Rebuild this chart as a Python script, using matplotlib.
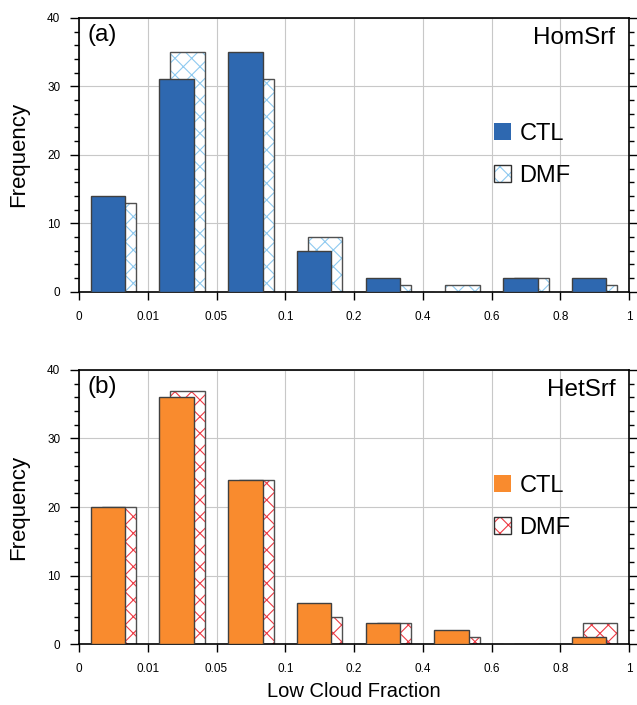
import numpy as np
import matplotlib
matplotlib.use('Agg')
import matplotlib.pyplot as plt
from matplotlib.patches import Patch

plt.rcParams['font.family'] = ['Liberation Sans', 'DejaVu Sans']
plt.rcParams['hatch.linewidth'] = 0.8

# bin edge labels and frequencies
edge_labels = ['0', '0.01', '0.05', '0.1', '0.2', '0.4', '0.6', '0.8', '1']
hom_ctl = [14, 31, 35, 6, 2, 0, 2, 2]
hom_dmf = [13, 35, 31, 8, 1, 1, 2, 1]
het_ctl = [20, 36, 24, 6, 3, 2, 0, 1]
het_dmf = [20, 37, 24, 4, 3, 1, 0, 3]

panels = [
    ('(a)', 'HomSrf', hom_ctl, hom_dmf, '#2e68b0', '#8fcaf0'),
    ('(b)', 'HetSrf', het_ctl, het_dmf, '#f98b2e', '#ee3a44'),
]

fig = plt.figure(figsize=(6.37, 7.05), dpi=100)
boxes = [[0.124, 0.586, 0.8635, 0.3887], [0.124, 0.0865, 0.8635, 0.3887]]

x = np.arange(len(hom_ctl))
width = 0.5
edge = '#505050'

for box, (tag, name, ctl, dmf, fill, hcol) in zip(boxes, panels):
    ax = fig.add_axes(box)
    ax.set_axisbelow(True)
    ax.grid(True, color='#c8c8c8', linewidth=0.8)

    # DMF: hatched, shifted right, drawn behind CTL
    ax.bar(x + 0.58, dmf, width, color='white', edgecolor=hcol,
           hatch='xx', linewidth=0, zorder=2)
    ax.bar(x + 0.58, dmf, width, fill=False, edgecolor=edge,
           linewidth=1.0, zorder=2.1)
    # CTL solid
    ax.bar(x + 0.42, ctl, width, color=fill, edgecolor='#404040',
           linewidth=1.0, zorder=3)

    ax.set_xlim(0, 8)
    ax.set_ylim(0, 40)
    ax.set_xticks(np.arange(9))
    ax.set_xticklabels(edge_labels)
    ax.set_yticks([0, 10, 20, 30, 40])
    ax.set_yticks(np.arange(0, 41, 2), minor=True)
    ax.tick_params(axis='y', which='both', direction='out', right=True,
                   labelsize=8.5, width=1.0, pad=7)
    ax.tick_params(axis='y', which='major', length=6.5)
    ax.tick_params(axis='y', which='minor', length=3.5)
    ax.tick_params(axis='x', direction='out', length=6, width=1.0,
                   labelsize=8.5, pad=8)
    for s in ax.spines.values():
        s.set_linewidth(1.2)

    ax.set_ylabel('Frequency', fontsize=16, labelpad=13)
    ax.text(0.016, 0.978, tag, transform=ax.transAxes, fontsize=17.5,
            ha='left', va='top')
    ax.text(0.975, 0.968, name, transform=ax.transAxes, fontsize=17.5,
            ha='right', va='top')

    h_ctl = Patch(facecolor=fill, edgecolor='none')
    h_dmf = (Patch(facecolor='white', edgecolor=hcol, hatch='xx', linewidth=0),
             Patch(fill=False, edgecolor='#303030', linewidth=1.0))
    ax.legend([h_ctl, h_dmf], ['CTL', 'DMF'], loc='center left',
              bbox_to_anchor=(0.715, 0.5), frameon=False, fontsize=17,
              handlelength=0.75, handleheight=0.75, handletextpad=0.35,
              labelspacing=0.85)

    if tag == '(b)':
        ax.set_xlabel('Low Cloud Fraction', fontsize=14.5, labelpad=5)

fig.savefig('out.png', dpi=100)
